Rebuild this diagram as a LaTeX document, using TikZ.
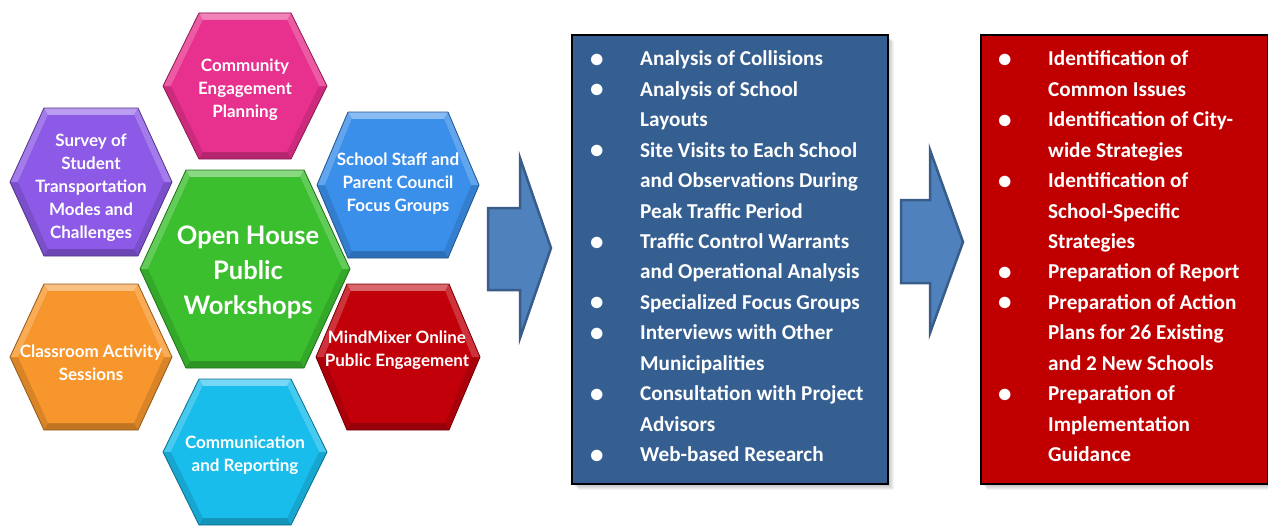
\documentclass[tikz,border=0pt]{standalone}
\usepackage{fontspec}
\newfontfamily\boxfont{Carlito}
\newfontfamily\hexfont{Lato}
\usetikzlibrary{calc}

\definecolor{hexPink}{HTML}{E8308E}
\definecolor{hexPurple}{HTML}{8C5AE6}
\definecolor{hexBlue}{HTML}{3A8FEA}
\definecolor{hexGreen}{HTML}{3BBF2E}
\definecolor{hexOrange}{HTML}{F7962C}
\definecolor{hexRed}{HTML}{C2000A}
\definecolor{hexCyan}{HTML}{19BDEB}
\definecolor{arrowFill}{HTML}{4F81BD}
\definecolor{arrowLine}{HTML}{385D8A}
\definecolor{listBlue}{HTML}{365F91}
\definecolor{listRed}{HTML}{C00000}

% bevelled hexagon: centre x, centre y, half width, half height, half top edge, colour
\newcommand\hexcell[6]{%
  \coordinate (oL)  at ({#1-#3},{#2});
  \coordinate (oTL) at ({#1-#5},{#2-#4});
  \coordinate (oTR) at ({#1+#5},{#2-#4});
  \coordinate (oR)  at ({#1+#3},{#2});
  \coordinate (oBR) at ({#1+#5},{#2+#4});
  \coordinate (oBL) at ({#1-#5},{#2+#4});
  \coordinate (iL)  at ({#1-#3+8},{#2});
  \coordinate (iTL) at ({#1-#5+4},{#2-#4+7});
  \coordinate (iTR) at ({#1+#5-4},{#2-#4+7});
  \coordinate (iR)  at ({#1+#3-8},{#2});
  \coordinate (iBR) at ({#1+#5-4},{#2+#4-7});
  \coordinate (iBL) at ({#1-#5+4},{#2+#4-7});
  \fill[#6!78!black] (oL) -- (oTL) -- (oTR) -- (oR) -- (oBR) -- (oBL) -- cycle;
  \fill[#6!88!black] (oL) -- (iL) -- (iBL) -- (oBL) -- cycle;
  \fill[#6!88!black] (oR) -- (iR) -- (iBR) -- (oBR) -- cycle;
  \fill[#6!80!white] (oL) -- (oTL) -- (iTL) -- (iL) -- cycle;
  \fill[#6!80!white] (oR) -- (oTR) -- (iTR) -- (iR) -- cycle;
  \fill[#6!60!white] (oTL) -- (oTR) -- (iTR) -- (iTL) -- cycle;
  \fill[#6] (iL) -- (iTL) -- (iTR) -- (iR) -- (iBR) -- (iBL) -- cycle;
  \draw[#6!60!black, line width=0.8pt, line join=round]
    (oL) -- (oTL) -- (oTR) -- (oR) -- (oBR) -- (oBL) -- cycle;
}

\tikzset{
  hextext/.style={align=center, text=white, inner sep=0pt,
    font=\hexfont\bfseries\fontsize{17}{23}\selectfont},
  bigtext/.style={hextext, font=\hexfont\bfseries\fontsize{25.5}{35}\selectfont},
  blockarrow/.style={fill=arrowFill, draw=arrowLine, line width=2.5pt, line join=miter},
  listbox/.style={draw=black, line width=1.6pt, anchor=north west, inner sep=0pt},
  listtext/.style={anchor=north west, inner sep=0pt, text=white,
    font=\boxfont\bfseries\fontsize{21.2}{30.45}\selectfont},
}

\newcommand\bul{\raisebox{-1.5pt}{\fontsize{27}{27}\selectfont\textbullet}}

\begin{document}
\begin{tikzpicture}[x=1pt, y=-1pt]
  \useasboundingbox (0,0) rectangle (1268,527);
  \fill[white] (0,0) rectangle (1268,527);

  % honeycomb of workshop activities
  \hexcell{245}{86}{82}{73}{46}{hexPink}
  \hexcell{91}{182}{81}{74}{47}{hexPurple}
  \hexcell{398}{185}{81}{73}{50}{hexBlue}
  \hexcell{91}{357}{81}{73}{47}{hexOrange}
  \hexcell{398}{357}{82}{73}{51}{hexRed}
  \hexcell{245}{452}{82}{73}{46}{hexCyan}
  \hexcell{245}{269}{105}{99}{59}{hexGreen}

  \node[hextext] (community) at (245,90) {Community\\Engagement\\Planning};
  \node[hextext] (survey) at (91,188) {Survey of\\Student\\Transportation\\Modes and\\Challenges};
  \node[hextext] (staff) at (398,184) {School Staff and\\Parent Council\\Focus Groups};
  \node[bigtext] (openhouse) at (248,272) {Open House\\Public\\Workshops};
  \node[hextext] (classroom) at (91,363) {Classroom Activity\\Sessions};
  \node[hextext] (mindmixer) at (397,350) {MindMixer Online\\Public Engagement};
  \node[hextext] (reporting) at (245,455) {Communication\\and Reporting};

  % block arrows between the stages
  \draw[blockarrow] (488,208) -- (520,208) -- (520,158) -- (551,248)
    -- (520,338) -- (520,290) -- (488,290) -- cycle;
  \draw[blockarrow] (901,200) -- (930,200) -- (930,150) -- (963,242)
    -- (930,333) -- (930,283) -- (901,283) -- cycle;

  % soft shadows behind the list boxes
  \foreach \s in {1,...,7} {
    \fill[black, opacity=0.045] ({571+\s},{34+\s}) rectangle ({887+\s},{483+\s});
    \fill[black, opacity=0.045] ({980+\s},{34+\s}) rectangle ({1267+\s},{483+\s});
  }

  % analysis tasks
  \node[listbox, fill=listBlue, minimum width=316pt, minimum height=449pt] (tasks) at (571,34) {};
  \node[listtext] (tasklist) at (590,44.3) {%
    \begin{tabular}{@{}p{50pt}@{}l@{}}
    \bul & Analysis of Collisions\\
    \bul & Analysis of School\\
         & Layouts\\
    \bul & Site Visits to Each School\\
         & and Observations During\\
         & Peak Traffic Period\\
    \bul & Traffic Control Warrants\\
         & and Operational Analysis\\
    \bul & Specialized Focus Groups\\
    \bul & Interviews with Other\\
         & Municipalities\\
    \bul & Consultation with Project\\
         & Advisors\\
    \bul & Web-based Research
    \end{tabular}};

  % outcomes
  \node[listbox, fill=listRed, minimum width=287pt, minimum height=449pt] (outcomes) at (980,34) {};
  \node[listtext] (outcomelist) at (998,44.3) {%
    \begin{tabular}{@{}p{50pt}@{}l@{}}
    \bul & Identification of\\
         & Common Issues\\
    \bul & Identification of City-\\
         & wide Strategies\\
    \bul & Identification of\\
         & School-Specific\\
         & Strategies\\
    \bul & Preparation of Report\\
    \bul & Preparation of Action\\
         & Plans for 26 Existing\\
         & and 2 New Schools\\
    \bul & Preparation of\\
         & Implementation\\
         & Guidance
    \end{tabular}};
\end{tikzpicture}
\end{document}
